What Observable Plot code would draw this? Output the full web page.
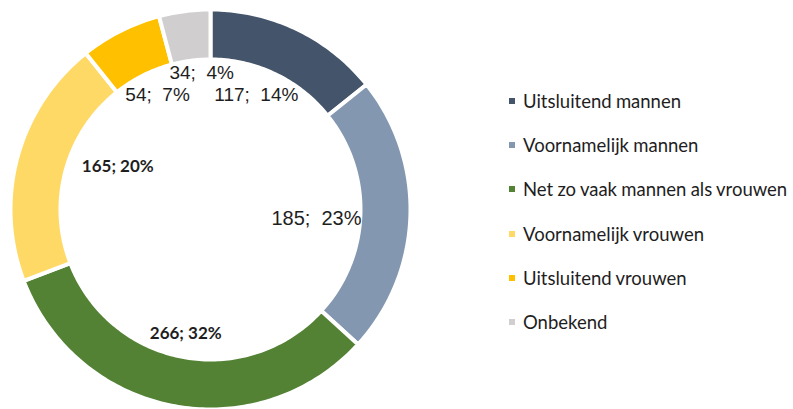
<!DOCTYPE html>
<html>
<head>
<meta charset="utf-8">
<script src="https://cdn.jsdelivr.net/npm/d3@7"></script>
<script src="https://cdn.jsdelivr.net/npm/@observablehq/plot@0.6"></script>
<style>
  html, body { margin: 0; padding: 0; background: #fff; }
  #wrap { position: relative; width: 793px; height: 409px; overflow: hidden; }
  #legend { position: absolute; left: 509px; top: 0; font-family: Lato, sans-serif; font-size: 18.5px; letter-spacing: 0; word-spacing: -0.5px; color: #1e1e1e; }
  .item { position: absolute; left: 0; white-space: nowrap; display: flex; align-items: center; height: 24px; }
  .sw { width: 6px; height: 6px; margin-right: 8px; flex: none; }
</style>
</head>
<body>
<div id="wrap"><div id="legend"></div></div>
<script>
// ---- data ----
const categories = ["Uitsluitend mannen", "Voornamelijk mannen", "Net zo vaak mannen als vrouwen", "Voornamelijk vrouwen", "Uitsluitend vrouwen", "Onbekend"];
const counts = [117, 185, 266, 165, 54, 34];
const percents = [14, 23, 32, 20, 7, 4];
const labels = ["117;  14%", "185;  23%", "266; 32%", "165; 20%", "54;  7%", "34;  4%"];
const colors = ["#44546a", "#8497b0", "#548235", "#ffd966", "#ffc000", "#d0cece"];

// ---- layout ----
const W = 793, H = 409, cx = 210, cy = 209, Rpx = 200;
const inner = 0.75, labelR = 0.61;
const labelStyle = {
  "Uitsluitend mannen": {dx: -7, dy: -5, font: "Liberation Sans, Arial, sans-serif", size: 19, weight: 400},
  "Voornamelijk mannen": {dx: -16, dy: 5, font: "Liberation Sans, Arial, sans-serif", size: 20, weight: 400},
  "Net zo vaak mannen als vrouwen": {dx: -2, dy: 4, font: "Lato, sans-serif", size: 17, weight: 700},
  "Voornamelijk vrouwen": {dx: 25, dy: -11, font: "Lato, sans-serif", size: 17, weight: 700},
  "Uitsluitend vrouwen": {dx: 2, dy: -6, font: "Liberation Sans, Arial, sans-serif", size: 19, weight: 400},
  "Onbekend": {dx: 7, dy: -15.5, font: "Liberation Sans, Arial, sans-serif", size: 19, weight: 400}
};

const total = d3.sum(counts);
const pie = d3.pie().sort(null).value(d => d)(counts);

// ring geometry (angle 0 at top, clockwise)
const pt = (a, r) => ({x: r * Math.sin(a), y: r * Math.cos(a)});
const slices = pie.map((p, i) => {
  const n = Math.max(8, Math.ceil((p.endAngle - p.startAngle) / (Math.PI / 180)));
  const pts = [];
  for (let k = 0; k <= n; k++) pts.push(pt(p.startAngle + (p.endAngle - p.startAngle) * k / n, 1));
  for (let k = n; k >= 0; k--) pts.push(pt(p.startAngle + (p.endAngle - p.startAngle) * k / n, inner));
  pts.push(pts[0]);
  return {name: categories[i], color: colors[i], pts};
});

const labelData = pie.map((p, i) => {
  const m = (p.startAngle + p.endAngle) / 2;
  return {name: categories[i], label: labels[i], ...pt(m, labelR)};
});

const marks = slices.map(s => Plot.line(s.pts, {
  x: "x", y: "y", fill: s.color, stroke: "white", strokeWidth: 4, strokeLinejoin: "round"
}));
labelData.forEach(d => {
  const st = labelStyle[d.name];
  marks.push(Plot.text([d], {
    x: "x", y: "y", text: "label", dx: st.dx, dy: st.dy,
    fontFamily: st.font, fontSize: st.size, fontWeight: st.weight, fill: "#1e1e1e",
    textAnchor: "middle", lineAnchor: "middle"
  }));
});

const chart = Plot.plot({
  width: W, height: H,
  margin: 0,
  x: {domain: [-1, 1], range: [cx - Rpx, cx + Rpx], axis: null},
  y: {domain: [-1, 1], range: [cy + Rpx, cy - Rpx], axis: null},
  style: {background: "white", overflow: "visible"},
  marks
});
document.getElementById("wrap").prepend(chart);

// legend
const legendY = [101, 145, 189, 234, 278, 322];
const lg = document.getElementById("legend");
categories.forEach((c, i) => {
  const it = document.createElement("div");
  it.className = "item";
  it.style.top = (legendY[i] - 12) + "px";
  it.innerHTML = `<span class="sw" style="background:${colors[i]}"></span><span>${c}</span>`;
  lg.appendChild(it);
});
</script>
</body>
</html>
